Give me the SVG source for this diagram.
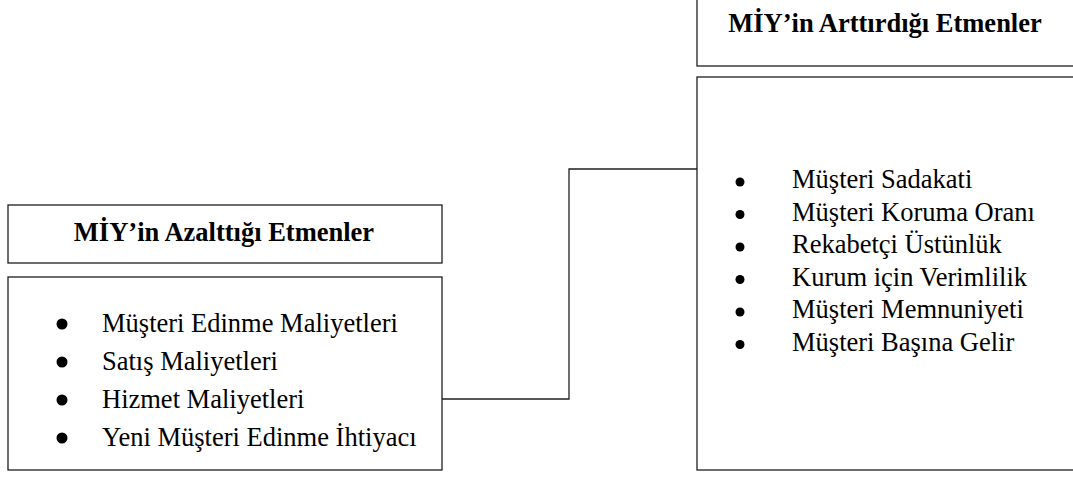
<svg xmlns="http://www.w3.org/2000/svg" width="1073" height="477" viewBox="0 0 1073 477">
<style>
.box{fill:#ffffff;stroke:#1f1f1f;stroke-width:1.3}
.hdr{font-family:"Liberation Serif","Times New Roman",serif;font-weight:bold;font-size:26.5px;fill:#000;text-anchor:middle}
.item{font-family:"Liberation Serif","Times New Roman",serif;font-size:26.5px;fill:#000}
.bul{fill:#000}
.conn{fill:none;stroke:#1f1f1f;stroke-width:1.3}
</style>
<rect width="1073" height="477" fill="#ffffff"/>
<g id="connectors">
<polyline class="conn" points="442,399 569,399 569,169 697,169"/>
</g>
<g id="left-header">
<rect class="box" x="8" y="205" width="434" height="58"/>
<text class="hdr" x="224" y="241">MİY’in Azalttığı Etmenler</text>
</g>
<g id="left-list">
<rect class="box" x="8" y="277" width="434" height="193"/>
<circle class="bul" cx="62" cy="324" r="5.5"/>
<circle class="bul" cx="62" cy="362" r="5.5"/>
<circle class="bul" cx="62" cy="400" r="5.5"/>
<circle class="bul" cx="62" cy="438" r="5.5"/>
<text class="item" x="102" y="332">Müşteri Edinme Maliyetleri</text>
<text class="item" x="102" y="370">Satış Maliyetleri</text>
<text class="item" x="102" y="408">Hizmet Maliyetleri</text>
<text class="item" x="102" y="446">Yeni Müşteri Edinme İhtiyacı</text>
</g>
<g id="right-header">
<rect class="box" x="697" y="-2" width="380" height="68"/>
<text class="hdr" x="885" y="32">MİY’in Arttırdığı Etmenler</text>
</g>
<g id="right-list">
<rect class="box" x="697" y="77" width="380" height="393"/>
<circle class="bul" cx="740" cy="182" r="4.5"/>
<circle class="bul" cx="740" cy="214.5" r="4.5"/>
<circle class="bul" cx="740" cy="247" r="4.5"/>
<circle class="bul" cx="740" cy="279.5" r="4.5"/>
<circle class="bul" cx="740" cy="312" r="4.5"/>
<circle class="bul" cx="740" cy="344.5" r="4.5"/>
<text class="item" x="792" y="188">Müşteri Sadakati</text>
<text class="item" x="792" y="220.5">Müşteri Koruma Oranı</text>
<text class="item" x="792" y="253">Rekabetçi Üstünlük</text>
<text class="item" x="792" y="285.5">Kurum için Verimlilik</text>
<text class="item" x="792" y="318">Müşteri Memnuniyeti</text>
<text class="item" x="792" y="350.5">Müşteri Başına Gelir</text>
</g>
</svg>
